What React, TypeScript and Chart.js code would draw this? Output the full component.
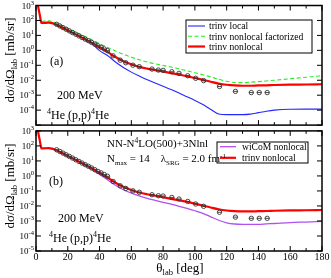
import React, { useEffect, useRef } from 'react';
import { Chart, registerables } from 'chart.js';
Chart.register(...registerables);

const FONT = '"Liberation Serif", "DejaVu Serif", serif';

// forward Coulomb spike of the trinv nonlocal curve
const spikeTheta = [0.8, 1.5, 2.5, 3.2];
const spikeTrinvNonlocal = [2000, 700, 200, 80];

// common angle grid for the calculated curves (deg)
const curveTheta = [3.5, 5, 8, 10, 12, 15, 20, 25, 30, 35, 40, 45, 50, 55, 60, 65, 70, 75, 80, 85, 90, 95, 100, 105, 110, 115, 120, 125, 130, 135, 140, 145, 150, 160, 170, 180];
const trinvLocal = [68, 76, 76, 69, 56, 40, 21.4, 11.2, 5.75, 2.8, 0.95, 0.45, 0.166, 0.071, 0.035, 0.019, 0.0107, 0.0066, 0.004, 0.0024, 0.0014, 0.00079, 0.00045, 0.00024, 0.000112, 0.000056, 0.00005, 0.00005, 0.00005, 0.000054, 0.000068, 0.000085, 0.0001, 0.000115, 0.000117, 0.000117];
const trinvFactorized = [75, 91, 93, 85, 71, 52, 29.5, 16.6, 9.3, 5.2, 2.8, 1.58, 0.91, 0.55, 0.35, 0.234, 0.166, 0.126, 0.098, 0.076, 0.058, 0.043, 0.032, 0.0234, 0.0166, 0.0117, 0.0085, 0.0071, 0.0069, 0.0074, 0.0081, 0.009, 0.01, 0.0126, 0.0158, 0.02];
const trinvNonlocal = [68, 69, 71, 66, 55, 40, 21.4, 11.7, 6.3, 3.3, 1.58, 0.79, 0.355, 0.19, 0.117, 0.079, 0.06, 0.048, 0.038, 0.03, 0.024, 0.019, 0.0141, 0.0107, 0.0079, 0.006, 0.005, 0.0045, 0.0043, 0.0043, 0.0045, 0.0046, 0.0048, 0.0051, 0.0052, 0.0054];
const wiCoMNonlocal = [68, 69, 71, 66, 55, 40, 21, 11.2, 5.75, 2.8, 1.26, 0.56, 0.24, 0.12, 0.072, 0.047, 0.032, 0.0234, 0.0174, 0.0132, 0.0095, 0.0069, 0.0048, 0.0032, 0.0019, 0.00112, 0.00076, 0.00063, 0.00059, 0.00059, 0.0006, 0.00064, 0.00068, 0.00078, 0.00085, 0.00093];

// experimental data
const dataTheta = [13, 15, 17, 19, 21, 23, 25, 27, 29, 31, 33, 35, 37, 39, 41, 43, 45, 48.5, 53, 56.5, 61, 65, 73, 77, 80, 85.5, 90, 95.5, 100.5, 105.5, 115.5, 125.5, 135.5, 140.5, 145.5];
const dataXsec = [55, 42.7, 33.1, 25.7, 20, 15.5, 12, 9.3, 7.2, 5.6, 4.4, 3.4, 2.6, 2.0, 1.6, 1.23, 0.95, 0.43, 0.22, 0.148, 0.102, 0.081, 0.056, 0.048, 0.046, 0.037, 0.029, 0.02, 0.0135, 0.0095, 0.0038, 0.0018, 0.0015, 0.0015, 0.0015];

const xTickValues = [0, 20, 40, 60, 80, 100, 120, 140, 160, 180];
const xTickLabels = ['0', '20', '40', '60', '80', '100', '120', '140', '160', '180'];
const topYExponents = [3, 2, 1, 0, -1, -2, -3, -4];
const bottomYExponents = [3, 2, 1, 0, -1, -2, -3, -4, -5];

const COLORS = { blue: '#2626ff', green: '#22ee22', red: '#ff0000', violet: '#b050f0', data: '#333333' };

type Part = [string, number, number];
function drawRich(ctx: CanvasRenderingContext2D, x: number, y: number, parts: Part[], align: 'left' | 'right' | 'center' = 'left') {
  let w = 0;
  for (const [t, s] of parts) { ctx.font = `${s}px ${FONT}`; w += ctx.measureText(t).width; }
  let cx = align === 'right' ? x - w : align === 'center' ? x - w / 2 : x;
  ctx.textAlign = 'left';
  ctx.textBaseline = 'alphabetic';
  for (const [t, s, dy] of parts) {
    ctx.font = `${s}px ${FONT}`;
    ctx.fillText(t, cx, y + dy);
    cx += ctx.measureText(t).width;
  }
}

const pts = (xs: number[], ys: number[]) => xs.map((x, i) => ({ x, y: ys[i] }));

function curve(label: string, data: any, color: string, width: number, dash: number[] = []) {
  return { label, data, borderColor: color, borderWidth: width, borderDash: dash, pointRadius: 0, fill: false, cubicInterpolationMode: 'monotone' as const };
}

function dataSets() {
  return [
    { label: 'exp-bar', data: pts(dataTheta, dataXsec), showLine: false, pointStyle: 'line', pointRadius: 2.2, borderColor: COLORS.data, borderWidth: 0.9, backgroundColor: 'transparent' },
    { label: 'exp', data: pts(dataTheta, dataXsec), showLine: false, pointStyle: 'circle', pointRadius: 2.2, borderColor: COLORS.data, borderWidth: 0.9, backgroundColor: 'transparent' },
  ];
}

type LegendItem = { text: string; color: string; width: number; dash: number[] };
type PanelCfg = {
  offsetY: number;
  exps: number[];
  showXLabels: boolean;
  titleCenterY: number;
  legendBox: [number, number, number, number];
  legendItems: LegendItem[];
  legendYs: number[];
  legendLine: [number, number];
  legendTextX: number;
  texts: { x: number; y: number; parts: Part[] }[];
};

function panelPlugin(cfg: PanelCfg) {
  return {
    id: 'panelDecor',
    afterDraw(chart: any) {
      const ctx: CanvasRenderingContext2D = chart.ctx;
      const a = chart.chartArea;
      const xs = chart.scales.x;
      const ys = chart.scales.y;
      ctx.save();
      ctx.strokeStyle = '#000';
      ctx.fillStyle = '#000';
      // ticks
      ctx.lineWidth = 1;
      ctx.beginPath();
      for (let v = 0; v <= 180; v += 10) {
        const px = xs.getPixelForValue(v);
        const len = v % 20 === 0 ? 5 : 3;
        ctx.moveTo(px, a.bottom); ctx.lineTo(px, a.bottom - len);
        ctx.moveTo(px, a.top); ctx.lineTo(px, a.top + len);
      }
      for (let e = -5; e <= 3; e++) {
        const py = ys.getPixelForValue(Math.pow(10, e));
        ctx.moveTo(a.left, py); ctx.lineTo(a.left + 5, py);
        ctx.moveTo(a.right, py); ctx.lineTo(a.right - 5, py);
      }
      ctx.stroke();
      // frame
      ctx.lineWidth = 1.5;
      ctx.strokeRect(a.left, a.top, a.right - a.left, a.bottom - a.top);
      // y tick labels
      for (const e of cfg.exps) {
        const py = ys.getPixelForValue(Math.pow(10, e));
        drawRich(ctx, a.left - 2, py + 3, [['10', 9, 0], [String(e), 6.5, -4]], 'right');
      }
      // x tick labels
      if (cfg.showXLabels) {
        xTickValues.forEach((v, i) => {
          const px = xs.getPixelForValue(v);
          drawRich(ctx, px, a.bottom + 9, [[xTickLabels[i], 10, 0]], 'center');
        });
        drawRich(ctx, 180, a.bottom + 21, [['θ', 13, 0], ['lab', 8.5, 3], [' [deg]', 13, 0]], 'center');
      }
      // page coordinates from here
      ctx.translate(0, -cfg.offsetY);
      // y title
      ctx.save();
      ctx.translate(14, cfg.titleCenterY);
      ctx.rotate(-Math.PI / 2);
      drawRich(ctx, 0, 0, [['dσ/dΩ', 13, 0], ['lab', 8.5, 3], [' [mb/sr]', 13, 0]], 'center');
      ctx.restore();
      // legend
      const [bx, by, bw, bh] = cfg.legendBox;
      ctx.lineWidth = 1;
      ctx.strokeStyle = '#000';
      ctx.strokeRect(bx, by, bw, bh);
      cfg.legendItems.forEach((it, i) => {
        const y = cfg.legendYs[i];
        ctx.save();
        ctx.strokeStyle = it.color;
        ctx.lineWidth = it.width;
        ctx.setLineDash(it.dash);
        ctx.beginPath();
        ctx.moveTo(cfg.legendLine[0], y);
        ctx.lineTo(cfg.legendLine[1], y);
        ctx.stroke();
        ctx.restore();
        drawRich(ctx, cfg.legendTextX, y + 3.3, [[it.text, 9.6, 0]]);
      });
      // annotations
      for (const t of cfg.texts) drawRich(ctx, t.x, t.y, t.parts);
      ctx.restore();
    },
  };
}

function makeChart(canvas: HTMLCanvasElement, datasets: any[], padding: any, cfg: PanelCfg) {
  return new Chart(canvas, {
    type: 'line',
    data: { datasets },
    options: {
      animation: false,
      responsive: false,
      layout: { padding },
      plugins: { legend: { display: false }, tooltip: { enabled: false } },
      scales: {
        x: { type: 'linear', min: 0, max: 180, display: false },
        y: { type: 'logarithmic', min: 1e-5, max: 1e3, display: false },
      },
    },
    plugins: [panelPlugin(cfg)],
  } as any);
}

const heText = (x: number, y: number) => ({ x, y, parts: [['4', 8, -5], ['He (p,p)', 12, 0], ['4', 8, -5], ['He', 12, 0]] as Part[] });

export default function App() {
  const topRef = useRef<HTMLCanvasElement>(null);
  const botRef = useRef<HTMLCanvasElement>(null);

  useEffect(() => {
    const redData = pts(spikeTheta.concat(curveTheta), spikeTrinvNonlocal.concat(trinvNonlocal));
    const top = makeChart(
      topRef.current!,
      [
        ...dataSets(),
        curve('trinv nonlocal', redData, COLORS.red, 2.2),
        curve('trinv nonlocal factorized', pts(curveTheta, trinvFactorized), COLORS.green, 1.1, [4, 2.5]),
        curve('trinv local', pts(curveTheta, trinvLocal), COLORS.blue, 1.1),
      ],
      { left: 36, right: 9, top: 5.5, bottom: 2 },
      {
        offsetY: 0,
        exps: topYExponents,
        showXLabels: false,
        titleCenterY: 60,
        legendBox: [186, 20, 126, 33],
        legendItems: [
          { text: 'trinv local', color: COLORS.blue, width: 1.1, dash: [] },
          { text: 'trinv nonlocal factorized', color: COLORS.green, width: 1.1, dash: [4, 2.5] },
          { text: 'trinv nonlocal', color: COLORS.red, width: 2.2, dash: [] },
        ],
        legendYs: [26, 36.3, 46.5],
        legendLine: [188, 205],
        legendTextX: 209,
        texts: [
          { x: 50, y: 65, parts: [['(a)', 12, 0]] },
          { x: 57, y: 99, parts: [['200 MeV', 12, 0]] },
          heText(47, 119),
        ],
      }
    );
    const bot = makeChart(
      botRef.current!,
      [
        ...dataSets(),
        curve('trinv nonlocal', redData, COLORS.red, 2.2),
        curve('wiCoM nonlocal', pts(curveTheta, wiCoMNonlocal), COLORS.violet, 1.3),
      ],
      { left: 36, right: 9, top: 2, bottom: 27 },
      {
        offsetY: 126,
        exps: bottomYExponents,
        showXLabels: true,
        titleCenterY: 186,
        legendBox: [217, 142, 91, 21],
        legendItems: [
          { text: 'wiCoM nonlocal', color: COLORS.violet, width: 1.3, dash: [] },
          { text: 'trinv nonlocal', color: COLORS.red, width: 2.2, dash: [] },
        ],
        legendYs: [146.7, 157.8],
        legendLine: [220, 236],
        legendTextX: 242,
        texts: [
          { x: 49, y: 185, parts: [['(b)', 12, 0]] },
          { x: 58, y: 222, parts: [['200 MeV', 12, 0]] },
          heText(49, 242),
          { x: 107, y: 147, parts: [['NN-N', 11, 0], ['4', 7.5, -4.5], ['LO(500)+3Nlnl', 11, 0]] },
          { x: 107, y: 162, parts: [['N', 11, 0], ['max', 7, 3], [' = 14    λ', 11, 0], ['SRG', 7, 3], [' = 2.0 fm', 11, 0], ['-1', 7, -4.5]] },
        ],
      }
    );
    return () => { top.destroy(); bot.destroy(); };
  }, []);

  return (
    <div style={{ position: 'fixed', left: 0, top: 0, width: 331, height: 278, background: '#fff' }}>
      <canvas ref={topRef} width={331} height={130} style={{ position: 'absolute', left: 0, top: 0 }} />
      <canvas ref={botRef} width={331} height={152} style={{ position: 'absolute', left: 0, top: 126 }} />
    </div>
  );
}
